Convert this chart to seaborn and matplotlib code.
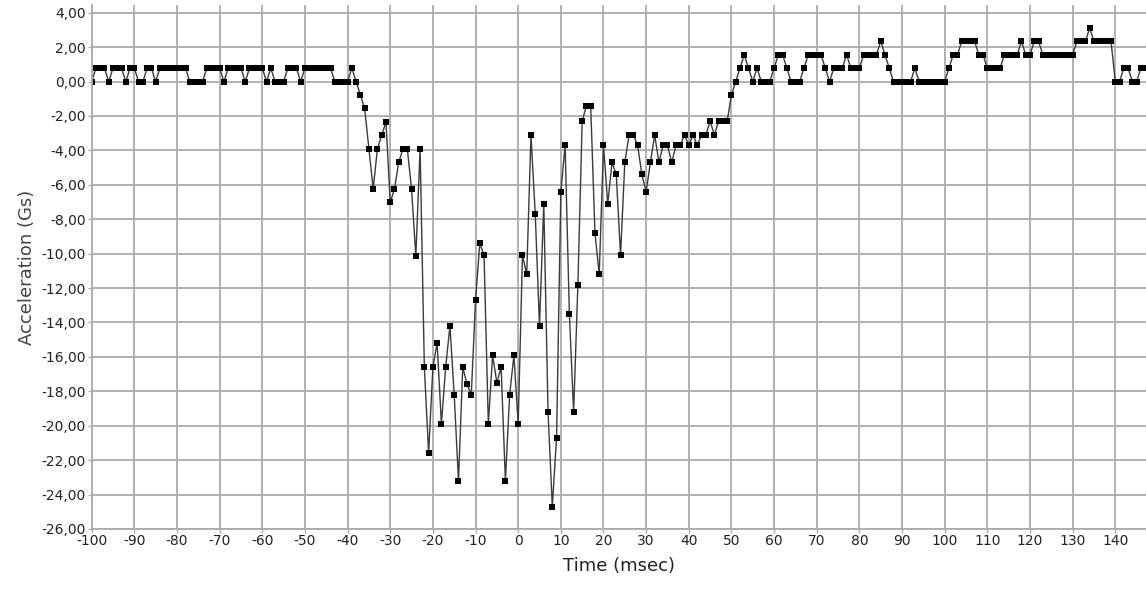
import pandas as pd
import matplotlib
matplotlib.use("Agg")
import matplotlib.pyplot as plt
import seaborn as sns
from matplotlib.ticker import FuncFormatter, MultipleLocator

# sample times (1 ms sampling)
time_ms = list(range(-100, 148))

# acceleration (Gs), before impact: -100 .. -41 ms
accel_pre = [
    0, .78, .78, .78, 0, .78, .78, .78, 0, .78,
    .78, 0, 0, .78, .78, 0, .78, .78, .78, .78,
    .78, .78, .78, 0, 0, 0, 0, .78, .78, .78,
    .78, 0, .78, .78, .78, .78, 0, .78, .78, .78,
    .78, 0, .78, 0, 0, 0, .78, .78, .78, 0,
    .78, .78, .78, .78, .78, .78, .78, 0, 0, 0,
]
# impact: -40 .. 49 ms
accel_impact = [
    0, .78, 0, -.78, -1.56, -3.9, -6.24, -3.9, -3.12, -2.34,
    -7.02, -6.24, -4.68, -3.9, -3.9, -6.24, -10.14, -3.9, -16.6, -21.6,
    -16.6, -15.2, -19.9, -16.6, -14.2, -18.2, -23.2, -16.6, -17.6, -18.2,
    -12.7, -9.4, -10.1, -19.9, -15.9, -17.5, -16.6, -23.2, -18.2, -15.9,
    -19.9, -10.1, -11.2, -3.1, -7.7, -14.2, -7.1, -19.2, -24.7, -20.7,
    -6.4, -3.7, -13.5, -19.2, -11.8, -2.3, -1.4, -1.4, -8.8, -11.2,
    -3.7, -7.1, -4.7, -5.4, -10.1, -4.7, -3.1, -3.1, -3.7, -5.4,
    -6.4, -4.7, -3.1, -4.7, -3.7, -3.7, -4.7, -3.7, -3.7, -3.1,
    -3.7, -3.1, -3.7, -3.1, -3.1, -2.3, -3.1, -2.3, -2.3, -2.3,
]
# after impact: 50 .. 147 ms
accel_post = [
    -.78, 0, .78, 1.56, .78, 0, .78, 0, 0, 0,
    .78, 1.56, 1.56, .78, 0, 0, 0, .78, 1.56, 1.56,
    1.56, 1.56, .78, 0, .78, .78, .78, 1.56, .78, .78,
    .78, 1.56, 1.56, 1.56, 1.56, 2.34, 1.56, .78, 0, 0,
    0, 0, 0, .78, 0, 0, 0, 0, 0, 0,
    0, .78, 1.56, 1.56, 2.34, 2.34, 2.34, 2.34, 1.56, 1.56,
    .78, .78, .78, .78, 1.56, 1.56, 1.56, 1.56, 2.34, 1.56,
    1.56, 2.34, 2.34, 1.56, 1.56, 1.56, 1.56, 1.56, 1.56, 1.56,
    1.56, 2.34, 2.34, 2.34, 3.12, 2.34, 2.34, 2.34, 2.34, 2.34,
    0, 0, .78, .78, 0, 0, .78, .78,
]

df = pd.DataFrame({"time": time_ms, "accel": accel_pre + accel_impact + accel_post})

sns.set_style("white")
plt.rcParams["font.family"] = ["DejaVu Sans"]

fig = plt.figure(figsize=(11.46, 5.90), dpi=100)
ax = fig.add_axes([0.080, 0.1035, 0.920, 0.888])

sns.lineplot(
    data=df, x="time", y="accel", ax=ax,
    color="#3a3a3a", linewidth=1.0,
    marker="s", markersize=4.6,
    markerfacecolor="black", markeredgecolor="black", markeredgewidth=0,
)

ax.set_xlim(-100, 147.2)
ax.set_ylim(-26, 4.45)
ax.xaxis.set_major_locator(MultipleLocator(10))
ax.yaxis.set_major_locator(MultipleLocator(2))
ax.yaxis.set_major_formatter(FuncFormatter(lambda v, _: f"{v:.2f}".replace(".", ",")))
ax.xaxis.set_major_formatter(FuncFormatter(lambda v, _: f"{v:.0f}"))

ax.grid(True, color="#ababab", linewidth=1.3)
ax.set_axisbelow(True)
for side in ["top", "right"]:
    ax.spines[side].set_visible(False)
for side in ["left", "bottom"]:
    ax.spines[side].set_color("#ababab")
    ax.spines[side].set_linewidth(1.3)
ax.tick_params(axis="both", length=3, width=1, color="#ababab",
               labelsize=10, labelcolor="#222222", pad=1)
ax.tick_params(axis="x", bottom=True)
ax.tick_params(axis="y", left=True)

ax.set_xlabel("Time (msec)", fontsize=13, color="#222222", labelpad=6)
ax.set_ylabel("Acceleration (Gs)", fontsize=13, color="#444444", labelpad=4)

plt.savefig("out.png", dpi=100)
plt.close()
